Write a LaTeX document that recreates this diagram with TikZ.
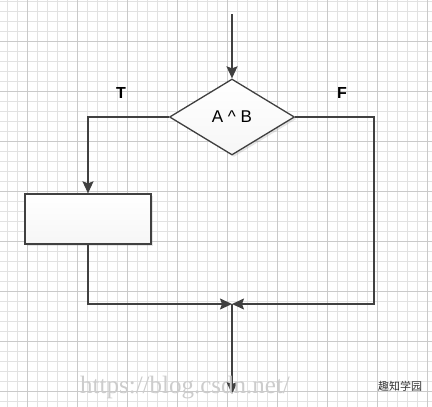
\documentclass[tikz,border=0pt]{standalone}
\usepackage{fontspec}
\setmainfont{Liberation Sans}
\newfontfamily\cjk{Noto Sans CJK SC}
\newfontfamily\wm{Liberation Serif}
\usetikzlibrary{arrows.meta,shapes.geometric,shadows}
\definecolor{ln}{HTML}{404040}
\definecolor{gridminor}{HTML}{E2E2E2}
\definecolor{gridmajor}{HTML}{CACACA}
\tikzset{
  conn/.style={draw=ln, line width=1.5pt, -{Stealth[length=12pt,width=11pt,inset=2pt]}},
  shapebox/.style={draw=ln, line width=1.3pt, top color=white, bottom color=gray!7,
    drop shadow={shadow xshift=2pt, shadow yshift=-2pt, opacity=0.2, fill=gray}},
  lbl/.style={font=\fontsize{16}{16}\selectfont\bfseries, text=black},
}
\begin{document}
\begin{tikzpicture}[x=1pt,y=-1pt]
\useasboundingbox (0,0) rectangle (432,407);
\fill[white] (0,0) rectangle (432,407);
% grid
\foreach \x in {7.5,17.5,...,430} \draw[gridminor, line width=0.8pt] (\x,0) -- (\x,407);
\foreach \y in {1.7,11.7,...,407} \draw[gridminor, line width=0.8pt] (0,\y) -- (432,\y);
\foreach \x in {27.5,77.5,...,430} \draw[gridmajor, line width=0.9pt] (\x,0) -- (\x,407);
\foreach \y in {41.7,91.7,...,407} \draw[gridmajor, line width=0.9pt] (0,\y) -- (432,\y);
% nodes
\node[shapebox, diamond, minimum width=125pt, minimum height=76pt, inner sep=0pt,
  font=\fontsize{17}{17}\selectfont] (d) at (232,117) {A \^{} B};
\node[shapebox, rectangle, minimum width=126pt, minimum height=50pt, inner sep=0pt] (box) at (88,219) {};
\node[lbl] (t) at (121,93) {T};
\node[lbl] (f) at (342,93) {F};
\coordinate (top) at (232,14);
\coordinate (lt) at (88,117);
\coordinate (rt) at (374,117);
\coordinate (bl) at (88,304);
\coordinate (br) at (374,304);
\coordinate (m) at (232,304);
\coordinate (bot) at (232,394);
% connectors
\draw[conn] (top) -- (d.north);
\draw[conn] (d.west) -- (lt) -- (box.north);
\draw[conn] (box.south) -- (bl) -- (m);
\draw[conn] (d.east) -- (rt) -- (br) -- (m);
\draw[conn] (m) -- (bot);
% watermark
\node[anchor=base west, text=gray!40, font=\wm\fontsize{25}{25}\selectfont, inner sep=0pt] (w1) at (80,393) {https://blog.csdn.net/};
\node[anchor=base west, text=black!80, font=\cjk\fontsize{11}{11}\selectfont, inner sep=0pt] (w2) at (378,390) {趣知学园};
\end{tikzpicture}
\end{document}
